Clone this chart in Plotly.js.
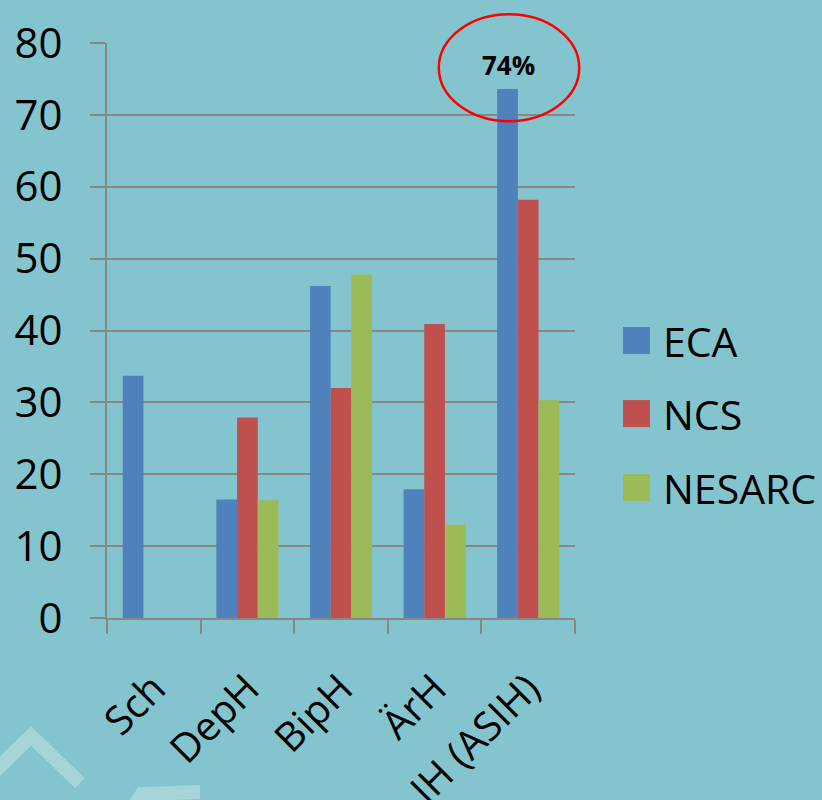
<!DOCTYPE html>
<html>
<head>
<meta charset="utf-8">
<script src="https://cdn.plot.ly/plotly-3.0.1.min.js"></script>
<style>html,body{margin:0;padding:0;background:#84C4CE;}#chart{width:822px;height:800px;}</style>
</head>
<body>
<div id="chart"></div>
<script>
const categories = ["Sch", "DepH", "BipH", "ÄrH", "IH (ASIH)"];
const seriesNames = ["ECA", "NCS", "NESARC"];
const eca = [33.7, 16.5, 46.2, 17.9, 73.6];
const ncs = [null, 27.9, 32.0, 40.9, 58.2];
const nesarc = [null, 16.4, 47.8, 13.0, 30.3];
const colors = ["#4F81BD", "#C0504D", "#9BBB59"];
const yTicks = [0, 10, 20, 30, 40, 50, 60, 70, 80];

const values = [eca, ncs, nesarc];
const traces = values.map((v, i) => ({
  type: "bar",
  name: seriesNames[i],
  x: categories,
  y: v,
  marker: {color: colors[i], line: {width: 0}},
  showlegend: false,
  hoverinfo: "x+y+name"
}));

const gridCol = "#878787";
const shapes = [];
const annotations = [];

// custom legend (large square swatches)
const legendTop = [0.506, 0.379, 0.2504];
seriesNames.forEach((n, i) => {
  shapes.push({type: "rect", xref: "paper", yref: "paper",
    x0: 1.1026, x1: 1.1603, y0: legendTop[i] - 0.047, y1: legendTop[i],
    fillcolor: colors[i], line: {width: 0}});
  annotations.push({xref: "paper", yref: "paper", x: 1.184, y: legendTop[i] - 0.0235,
    xanchor: "left", yanchor: "middle", text: n, showarrow: false,
    font: {size: 41, color: "#000", family: "Open Sans"}});
});

// highlight ellipse and label on the top bar
shapes.push({type: "circle", xref: "paper", yref: "paper",
  x0: 0.709, x1: 1.009, y0: 0.864, y1: 1.050,
  line: {color: "#FF0000", width: 2.5}, fillcolor: "rgba(0,0,0,0)"});
annotations.push({xref: "x", yref: "y", x: categories[4], y: eca[4],
  xshift: -20, yshift: 4, yanchor: "bottom", showarrow: false,
  text: "<b>" + Math.round(eca[4]) + "%</b>",
  font: {size: 26, color: "#000", family: "Open Sans"}});

// faint decorative chevrons (background)
shapes.push({type: "path", xref: "paper", yref: "paper", layer: "below",
  path: "M " + ((-10 - 107) / 468) + "," + ((618 - 776) / 575) +
        " L " + ((31 - 107) / 468) + "," + ((618 - 736) / 575) +
        " L " + ((80 - 107) / 468) + "," + ((618 - 783) / 575),
  line: {color: "rgba(255,255,255,0.28)", width: 14}});
shapes.push({type: "path", xref: "paper", yref: "paper", layer: "below",
  path: "M " + ((128 - 107) / 468) + "," + ((618 - 815) / 575) +
        " L " + ((142 - 107) / 468) + "," + ((618 - 794) / 575) +
        " L " + ((200 - 107) / 468) + "," + ((618 - 792) / 575),
  line: {color: "rgba(255,255,255,0.28)", width: 14}});

const layout = {
  width: 822, height: 800,
  paper_bgcolor: "#84C4CE", plot_bgcolor: "#84C4CE",
  margin: {l: 107, r: 247, t: 43, b: 182, autoexpand: false},
  font: {family: "Open Sans", color: "#000"},
  barmode: "group", bargap: 0.337, bargroupgap: 0,
  showlegend: false,
  xaxis: {type: "category", automargin: false, showgrid: false,
    showline: true, linecolor: gridCol, linewidth: 2,
    ticks: "outside", tickson: "boundaries", ticklen: 14, tickwidth: 2, tickcolor: gridCol,
    tickangle: -45, ticklabelstandoff: 29,
    tickfont: {size: 40, family: "Open Sans", color: "#000"}},
  yaxis: {range: [0, 80], tickvals: yTicks, automargin: false,
    showgrid: true, gridcolor: gridCol, gridwidth: 2, zeroline: false,
    showline: true, linecolor: gridCol, linewidth: 2,
    ticks: "outside", ticklen: 15, tickwidth: 2, tickcolor: gridCol,
    ticklabelstandoff: 19,
    tickfont: {size: 42, family: "Open Sans", color: "#000"}},
  shapes: shapes, annotations: annotations
};

Plotly.newPlot("chart", traces, layout, {displayModeBar: false, staticPlot: true});
</script>
</body>
</html>
